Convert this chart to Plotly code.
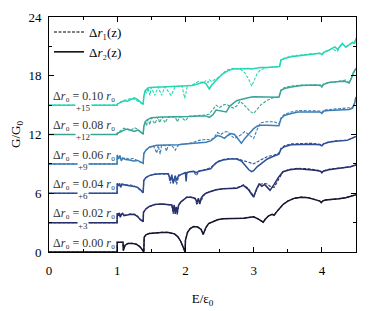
import plotly.graph_objects as go

# ---------------- data ----------------
labels = ["0.00", "0.02", "0.04", "0.06", "0.08", "0.10"]
offsets = [0, 3, 6, 9, 12, 15]
colors = ["#15172f", "#272e6a", "#2d4f98", "#3d7db3", "#39a497", "#22d8b4"]

E0 = [0, 0.998, 1.0, 1.085, 1.09, 1.10, 1.115, 1.16, 1.22, 1.28, 1.33, 1.36, 1.38, 1.39, 1.395, 1.42, 1.47,
      1.55, 1.65, 1.75, 1.84, 1.89, 1.93, 1.96, 1.985, 1.995, 2.0, 2.03, 2.07, 2.12, 2.18, 2.23, 2.26, 2.28,
      2.30, 2.34, 2.4, 2.47, 2.55, 2.7, 2.85, 2.95, 3.0, 3.07, 3.14, 3.17, 3.22, 3.27, 3.3, 3.33, 3.37, 3.43,
      3.5, 3.6, 3.7, 3.8, 3.9, 3.97, 3.99, 4.01, 4.05, 4.15, 4.25, 4.35, 4.45, 4.5]
G0 = [0, 0, 1.0, 1.0, 0.15, 0.3, 0.7, 0.88, 0.88, 0.8, 0.55, 0.3, 0.05, 0.0, 1.5, 1.75, 1.9,
      1.97, 2.0, 2.0, 1.85, 1.55, 1.1, 0.6, 0.1, 0.0, 1.2, 2.0, 2.4, 2.6, 2.55, 2.3, 1.8, 2.2,
      2.5, 2.9, 3.1, 3.3, 3.4, 3.4, 3.45, 3.55, 3.6, 3.35, 3.05, 3.35, 3.7, 3.85, 3.75, 4.05, 4.4, 4.85,
      5.2, 5.5, 5.6, 5.55, 5.35, 5.2, 5.05, 5.2, 5.3, 5.35, 5.45, 5.55, 5.7, 5.85]
G0d = G0

E1 = [0, 0.998, 1.0, 1.015, 1.03, 1.045, 1.06, 1.08, 1.1, 1.14, 1.2, 1.26, 1.3, 1.34, 1.37, 1.38, 1.385,
      1.42, 1.47, 1.55, 1.65, 1.75, 1.8, 1.82, 1.835, 1.85, 1.865, 1.88, 1.9, 1.93, 1.97, 2.02, 2.08, 2.14,
      2.17, 2.19, 2.21, 2.23, 2.26, 2.3, 2.38, 2.45, 2.55, 2.65, 2.75, 2.85, 2.92, 2.97, 3.0, 3.04, 3.08,
      3.12, 3.16, 3.2, 3.24, 3.3, 3.36, 3.43, 3.53, 3.65, 3.8, 3.9, 3.98, 4.0, 4.02, 4.1, 4.2, 4.3, 4.42, 4.5]
G1 = [0, 0, 0.95, 0.7, 1.0, 0.55, 0.85, 0.95, 0.7, 0.75, 0.85, 0.8, 0.6, 0.3, 0.08, 0.1, 1.05,
      1.4, 1.65, 1.85, 1.9, 1.85, 1.8, 1.2, 1.8, 0.9, 1.6, 1.1, 1.8, 2.1, 2.35, 2.6, 2.6, 2.5,
      2.1, 2.5, 1.9, 2.5, 2.8, 3.0, 3.2, 3.35, 3.45, 3.45, 3.5, 3.8, 3.4, 2.9, 2.6, 3.4, 3.95,
      3.7, 3.9, 3.6, 3.3, 3.9, 4.6, 5.2, 5.4, 5.5, 5.45, 5.35, 5.25, 5.1, 5.25, 5.4, 5.5, 5.6, 5.7, 5.9]
G1d = [0, 0, 0.95, 0.8, 0.95, 0.6, 0.8, 0.9, 0.75, 0.8, 0.9, 0.85, 0.65, 0.3, 0.08, 0.1, 1.05,
       1.4, 1.65, 1.85, 1.9, 1.85, 1.8, 0.9, 1.7, 1.2, 1.4, 0.8, 1.7, 2.1, 2.35, 2.6, 2.6, 2.45,
       1.8, 2.3, 2.1, 2.2, 2.7, 3.0, 3.2, 3.35, 3.45, 3.5, 3.55, 3.85, 3.5, 3.0, 2.7, 3.3, 3.9,
       3.95, 4.0, 3.95, 3.7, 3.6, 4.4, 5.2, 5.45, 5.55, 5.5, 5.4, 5.3, 5.1, 5.3, 5.45, 5.5, 5.6, 5.7, 5.9]

E2 = [0, 0.998, 1.0, 1.02, 1.035, 1.05, 1.07, 1.1, 1.15, 1.2, 1.25, 1.3, 1.34, 1.37, 1.38, 1.39, 1.42,
      1.47, 1.55, 1.65, 1.75, 1.78, 1.8, 1.82, 1.85, 1.87, 1.9, 1.93, 1.98, 2.0, 2.01, 2.02, 2.06, 2.12,
      2.16, 2.2, 2.27, 2.33, 2.37, 2.42, 2.47, 2.55, 2.65, 2.75, 2.82, 2.88, 2.93, 2.97, 3.0, 3.05, 3.1,
      3.2, 3.3, 3.37, 3.4, 3.45, 3.55, 3.7, 3.85, 3.97, 4.0, 4.03, 4.1, 4.2, 4.3, 4.37, 4.42, 4.46, 4.5]
G2 = [0, 0, 1.0, 0.75, 1.0, 0.6, 0.9, 0.85, 0.8, 0.75, 0.7, 0.6, 0.35, 0.1, 0.05, 1.3, 1.6,
      1.8, 1.95, 2.0, 2.0, 1.3, 1.9, 1.0, 1.8, 1.3, 1.85, 1.9, 2.1, 2.1, 1.2, 2.1, 2.2, 2.25,
      2.1, 2.25, 2.35, 2.45, 2.5, 2.9, 3.2, 3.4, 3.5, 3.5, 3.3, 2.8, 2.4, 2.2, 2.3, 2.7, 3.0,
      3.5, 3.8, 4.0, 4.5, 4.75, 4.95, 5.0, 5.0, 4.95, 4.85, 5.05, 5.2, 5.3, 5.35, 5.4, 5.55, 5.65, 5.8]
G2d = [0, 0, 1.0, 0.85, 0.95, 0.7, 0.95, 0.9, 0.85, 0.85, 0.75, 0.55, 0.3, 0.1, 0.05, 1.3, 1.6,
       1.8, 1.95, 2.0, 1.9, 1.0, 1.7, 1.2, 1.5, 0.9, 1.7, 1.9, 2.1, 2.1, 1.5, 2.1, 2.2, 2.2,
       1.8, 2.3, 2.4, 2.5, 2.6, 2.95, 3.25, 3.45, 3.55, 3.55, 3.4, 3.25, 3.1, 3.0, 3.0, 3.2, 3.4,
       3.75, 3.9, 4.1, 4.6, 4.85, 5.05, 5.1, 5.1, 5.0, 4.9, 5.1, 5.25, 5.35, 5.4, 5.45, 5.55, 5.65, 5.8]

E3 = [0, 0.998, 1.0, 1.02, 1.04, 1.06, 1.08, 1.12, 1.18, 1.24, 1.3, 1.34, 1.37, 1.38, 1.39, 1.42, 1.47,
      1.53, 1.58, 1.6, 1.63, 1.65, 1.7, 1.72, 1.75, 1.8, 1.85, 1.9, 1.95, 2.02, 2.1, 2.2, 2.3, 2.37,
      2.42, 2.47, 2.52, 2.57, 2.62, 2.67, 2.72, 2.77, 2.82, 2.87, 2.93, 3.0, 3.05, 3.1, 3.2, 3.3,
      3.37, 3.4, 3.45, 3.55, 3.65, 3.8, 3.97, 4.0, 4.03, 4.1, 4.2, 4.3, 4.4, 4.45, 4.48, 4.5]
G3 = [0, 0, 0.9, 0.5, 0.85, 0.3, 0.6, 0.45, 0.4, 0.3, 0.35, 0.2, 0.08, 0.05, 1.05, 1.4, 1.7,
      1.85, 1.9, 1.9, 1.9, 1.9, 1.9, 1.9, 1.9, 1.9, 1.95, 1.95, 2.0, 2.05, 2.1, 2.15, 2.2, 2.35,
      2.6, 2.9, 2.8, 2.6, 2.9, 3.1, 3.0, 2.5, 2.1, 2.6, 3.1, 3.6, 3.85, 3.95, 3.95, 3.9,
      3.9, 4.6, 4.95, 5.15, 5.3, 5.3, 5.3, 5.15, 5.4, 5.45, 5.5, 5.5, 5.55, 5.7, 6.2, 6.85]
G3d = [0, 0, 0.9, 0.6, 0.7, 0.45, 0.55, 0.6, 0.5, 0.55, 0.3, 0.15, 0.08, 0.05, 1.05, 1.4, 1.7,
       1.85, 1.1, 1.9, 1.0, 1.9, 1.9, 1.3, 1.9, 1.9, 1.4, 1.95, 2.0, 2.05, 2.15, 2.4, 2.5, 2.45,
       2.7, 3.2, 3.0, 3.25, 3.3, 2.9, 2.6, 2.8, 3.0, 3.3, 3.0, 2.6, 3.5, 4.2, 4.3, 4.3,
       4.1, 4.7, 5.05, 5.3, 5.45, 5.45, 5.4, 5.25, 5.5, 5.55, 5.6, 5.6, 5.65, 5.75, 6.25, 6.9]

E4 = [0, 0.998, 1.0, 1.05, 1.1, 1.15, 1.2, 1.25, 1.3, 1.33, 1.37, 1.38, 1.39, 1.41, 1.43, 1.45, 1.48,
      1.5, 1.55, 1.6, 1.62, 1.66, 1.7, 1.75, 1.85, 1.88, 1.92, 2.0, 2.05, 2.2, 2.3, 2.35, 2.4, 2.45,
      2.5, 2.55, 2.6, 2.65, 2.7, 2.75, 2.8, 2.85, 2.9, 2.95, 3.0, 3.05, 3.1, 3.2, 3.3, 3.37,
      3.4, 3.45, 3.55, 3.7, 3.9, 3.98, 4.0, 4.02, 4.1, 4.2, 4.3, 4.35, 4.4, 4.43, 4.46, 4.5]
G4 = [0, 0, 0.1, 0.3, 0.45, 0.55, 0.45, 0.3, 0.45, 0.35, 0.1, 0.08, 0.8, 1.3, 1.45, 1.55, 1.65,
      1.7, 1.75, 1.8, 1.8, 1.8, 1.8, 1.8, 1.8, 1.8, 1.85, 1.85, 1.85, 1.9, 1.9, 1.75, 2.0, 2.5,
      2.45, 2.35, 2.3, 2.9, 3.2, 3.45, 3.55, 3.65, 3.7, 3.8, 3.85, 3.85, 3.85, 3.8, 3.8, 3.8,
      4.5, 4.7, 4.85, 5.0, 5.05, 5.0, 4.85, 5.1, 5.3, 5.4, 5.45, 5.4, 5.25, 5.7, 6.3, 6.75]
G4d = [0, 0, 0.15, 0.45, 0.65, 0.5, 0.4, 0.7, 0.55, 0.3, 0.1, 0.08, 0.8, 1.3, 0.9, 1.55, 1.0,
       1.7, 1.1, 1.8, 1.2, 1.8, 1.2, 1.8, 1.8, 1.3, 1.85, 1.4, 1.85, 1.9, 2.0, 2.1, 2.6, 3.0,
       2.75, 3.0, 3.1, 2.9, 2.7, 2.9, 3.4, 3.1, 2.7, 2.35, 2.15, 2.6, 3.0, 3.5, 3.8, 3.8,
       4.55, 4.8, 4.95, 5.05, 5.1, 5.05, 4.9, 5.15, 5.3, 5.4, 5.5, 5.55, 5.3, 5.8, 6.3, 6.8]

E5 = [0, 0.998, 1.0, 1.05, 1.1, 1.15, 1.2, 1.25, 1.3, 1.35, 1.38, 1.39, 1.41, 1.43, 1.45, 1.48, 1.5,
      1.55, 1.6, 1.65, 1.7, 1.79, 1.85, 1.95, 1.99, 2.03, 2.1, 2.2, 2.25, 2.3, 2.33, 2.35, 2.38, 2.45,
      2.5, 2.55, 2.62, 2.7, 2.8, 2.87, 2.93, 2.97, 3.0, 3.05, 3.1, 3.2, 3.3, 3.38, 3.4, 3.45,
      3.55, 3.7, 3.85, 3.97, 4.0, 4.03, 4.1, 4.15, 4.19, 4.23, 4.27, 4.3, 4.35, 4.4, 4.45, 4.48, 4.5]
G5 = [0, 0, 0.1, 0.3, 0.45, 0.4, 0.55, 0.75, 0.55, 0.2, 0.08, 0.9, 1.5, 1.6, 1.75, 1.8, 1.82,
      1.85, 1.85, 1.85, 1.86, 1.88, 1.9, 1.92, 1.95, 2.0, 2.0, 2.2, 2.35, 2.2, 1.9, 1.65, 2.0, 2.55,
      2.9, 3.2, 3.5, 3.7, 3.75, 3.75, 3.75, 3.7, 3.75, 3.8, 3.85, 3.85, 3.9, 3.95, 4.6, 4.75,
      4.95, 5.1, 5.2, 5.3, 5.15, 5.4, 5.6, 5.75, 5.95, 5.7, 6.0, 6.3, 5.9, 6.15, 6.4, 6.3, 6.8]
G5d = [0, 0, 0.1, 0.35, 0.5, 0.55, 0.7, 0.6, 0.4, 0.25, 0.08, 0.9, 1.5, 1.2, 1.75, 1.0, 1.82,
       1.0, 1.85, 1.0, 1.86, 1.0, 1.9, 1.92, 0.7, 2.0, 2.05, 2.45, 2.2, 2.5, 2.3, 2.6, 2.4, 2.7,
       2.9, 3.3, 3.6, 3.75, 3.7, 3.3, 2.6, 1.95, 2.5, 3.2, 3.6, 3.85, 3.9, 3.95, 4.65, 4.8,
       5.0, 5.15, 5.25, 5.3, 5.2, 5.45, 5.6, 5.8, 5.6, 5.5, 6.05, 6.25, 5.95, 6.2, 6.35, 6.45, 6.85]

E_list = [E0, E1, E2, E3, E4, E5]
G_solid = [G0, G1, G2, G3, G4, G5]
G_dash = [G0d, G1d, G2d, G3d, G4d, G5d]

xticks = [0, 1, 2, 3, 4]
yticks = [0, 6, 12, 18, 24]

# ---------------- figure ----------------
FONT = "Liberation Serif, DejaVu Serif, serif"
fig = go.Figure()

for E, Gs, Gd, off, col in zip(E_list, G_solid, G_dash, offsets, colors):
    assert len(E) == len(Gs) == len(Gd)
    fig.add_trace(go.Scatter(x=E, y=[g + off for g in Gs], mode="lines",
                             line=dict(color=col, width=1.5), showlegend=False, hoverinfo="skip"))
    fig.add_trace(go.Scatter(x=E, y=[g + off for g in Gd], mode="lines",
                             line=dict(color=col, width=1.1, dash="3px,1.5px"),
                             showlegend=False, hoverinfo="skip"))

# legend entries
fig.add_trace(go.Scatter(x=[None], y=[None], mode="lines",
                         line=dict(color="black", width=1.1, dash="3px,1.5px"),
                         name="Δ<i>r</i>₁(z)"))
fig.add_trace(go.Scatter(x=[None], y=[None], mode="lines",
                         line=dict(color="black", width=1.5),
                         name="Δ<i>r</i>₂(z)"))

for lab, off in zip(labels, offsets):
    fig.add_annotation(x=0.03, y=off + 0.95, xref="x", yref="y", xanchor="left", yanchor="middle",
                       text=f"Δ<i>r</i>₀ = {lab} <i>r</i>₀", showarrow=False,
                       font=dict(family=FONT, size=12, color="#333333"))
    if off > 0:
        fig.add_annotation(x=0.5, y=off - 0.3, xref="x", yref="y", xanchor="center", yanchor="middle",
                           text=f"+{off}", showarrow=False, bgcolor="white", borderpad=0,
                           font=dict(family=FONT, size=9, color="#333333"))

# the page adds an 8px body margin, so the margins below are shifted to compensate
fig.update_layout(
    width=374, height=311,
    margin=dict(l=41, r=26, t=9, b=67, autoexpand=False),
    plot_bgcolor="white", paper_bgcolor="white",
    font=dict(family=FONT, size=13, color="black"),
    showlegend=True,
    legend=dict(x=0.0, y=1.0, xanchor="left", yanchor="top", bgcolor="rgba(0,0,0,0)",
                font=dict(family=FONT, size=13), tracegroupgap=0),
)
fig.update_xaxes(range=[0, 4.5], tickvals=xticks, ticks="inside", ticklen=5, tickcolor="black",
                 showline=True, linecolor="black", linewidth=1, mirror="ticks", automargin=False,
                 showgrid=False, zeroline=False, ticklabelstandoff=6,
                 tickfont=dict(family=FONT, size=13),
                 minor=dict(tickvals=[0.5, 1.5, 2.5, 3.5], ticks="inside", ticklen=3,
                            tickcolor="black", showgrid=False),
                 title=dict(text="E/ε<sub>0</sub>", standoff=17, font=dict(family=FONT, size=13)))
fig.update_yaxes(range=[0, 24], tickvals=yticks, ticks="inside", ticklen=5, tickcolor="black",
                 showline=True, linecolor="black", linewidth=1, mirror="ticks", automargin=False,
                 showgrid=False, zeroline=False, ticklabelstandoff=4,
                 tickfont=dict(family=FONT, size=13),
                 minor=dict(tickvals=[3, 9, 15, 21], ticks="inside", ticklen=3,
                            tickcolor="black", showgrid=False),
                 title=dict(text="G/G<sub>0</sub>", standoff=10, font=dict(family=FONT, size=13)))

fig.write_html("out.html")
